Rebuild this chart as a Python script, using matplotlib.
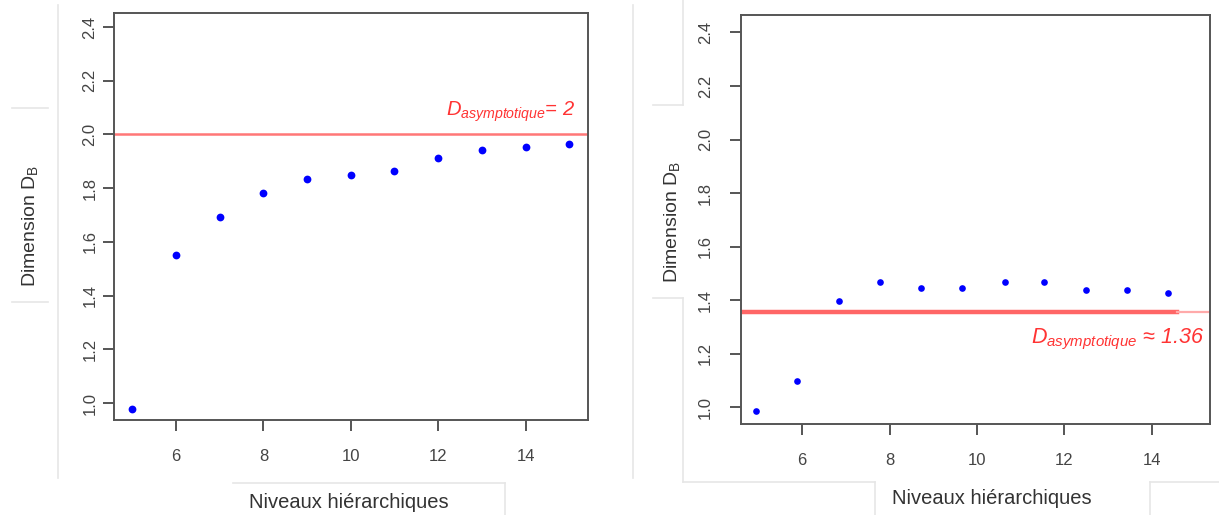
"""Box-counting dimension vs hierarchy level, two panels."""
import matplotlib
matplotlib.use("Agg")
import matplotlib.pyplot as plt
from matplotlib.lines import Line2D

plt.rcParams["font.family"] = ["Liberation Sans", "DejaVu Sans"]
plt.rcParams["mathtext.fontset"] = "custom"
plt.rcParams["mathtext.rm"] = "Liberation Sans"
plt.rcParams["mathtext.it"] = "Liberation Sans:italic"

# data
levels_left = [5, 6, 7, 8, 9, 10, 11, 12, 13, 14, 15]
dim_left = [0.978, 1.551, 1.693, 1.783, 1.834, 1.850, 1.863, 1.912, 1.942, 1.953, 1.965]
asym_left = 2.0

levels_right = [4.94, 5.89, 6.84, 7.77, 8.71, 9.65, 10.63, 11.54, 12.49, 13.43, 14.38]
dim_right = [0.985, 1.097, 1.397, 1.468, 1.447, 1.447, 1.467, 1.467, 1.439, 1.439, 1.426]
asym_right = 1.355

xticks = [6, 8, 10, 12, 14]
yticks = [1.0, 1.2, 1.4, 1.6, 1.8, 2.0, 2.2, 2.4]

W, H = 1219, 515
fig = plt.figure(figsize=(W / 100, H / 100), dpi=100)


def box(x0, y0, x1, y1):
    """Axes rect from pixel corners (top-left origin)."""
    return [x0 / W, 1 - y1 / H, (x1 - x0) / W, (y1 - y0) / H]


def faint(xs, ys):
    fig.add_artist(Line2D([x / W for x in xs], [1 - y / H for y in ys],
                          color="#e6e6e6", lw=1.2, transform=fig.transFigure))


def style_axes(ax, xlim, ylim, ypad):
    ax.set_xlim(*xlim)
    ax.set_ylim(*ylim)
    ax.set_xticks(xticks)
    ax.set_yticks(yticks)
    ax.set_yticklabels([f"{v:.1f}" for v in yticks])
    for s in ax.spines.values():
        s.set_color("#555555")
        s.set_linewidth(1.4)
    ax.tick_params(axis="both", colors="#555555", length=8, width=1.4,
                   labelsize=12, labelcolor="#444444")
    ax.tick_params(axis="x", pad=13)
    ax.tick_params(axis="y", labelrotation=90, pad=ypad)
    for lab in ax.get_yticklabels():
        lab.set_va("center")


# left panel
ax1 = fig.add_axes(box(114, 13, 588, 420))
ax1.plot(levels_left, dim_left, "o", color="#0000ff", ms=5.6, mec="none")
ax1.axhline(asym_left, color="#ff7777", lw=1.8)
ax1.text(0.972, 2.068, r"$D_{asymptotique}$= 2", color="#ff3333",
         style="italic", fontsize=14.5, ha="right", va="baseline",
         transform=ax1.get_yaxis_transform())
style_axes(ax1, (4.58, 15.43), (0.937, 2.452), 4)

# right panel
ax2 = fig.add_axes(box(741, 15, 1210, 424))
ax2.plot(levels_right, dim_right, "o", color="#0000ff", ms=4.8, mec="none")
ax2.axhline(asym_right, xmax=0.93, color="#ff6666", lw=3.2)
ax2.axhline(asym_right, xmin=0.93, color="#ffaaaa", lw=1.6)
ax2.text(0.987, 1.238, r"$D_{asymptotique}$ ≈ 1.36", color="#ff3333",
         style="italic", fontsize=15.5, ha="right", va="baseline",
         transform=ax2.get_yaxis_transform())
style_axes(ax2, (4.60, 15.33), (0.938, 2.465), 12)

# axis titles, placed where the screenshot has them
fig.text(349 / W, 1 - 502 / H, "Niveaux hiérarchiques", fontsize=14.5,
         color="#333333", ha="center", va="center")
fig.text(992 / W, 1 - 498 / H, "Niveaux hiérarchiques", fontsize=14.5,
         color="#333333", ha="center", va="center")
fig.text(30 / W, 1 - 226 / H, r"Dimension D$_\mathrm{B}$", fontsize=14,
         color="#333333", rotation=90, ha="center", va="center")
fig.text(672 / W, 1 - 222 / H, r"Dimension D$_\mathrm{B}$", fontsize=14,
         color="#333333", rotation=90, ha="center", va="center")

# faint screenshot seams
faint([58, 58], [5, 478])
faint([12, 48], [108, 108])
faint([12, 48], [302, 302])
faint([233, 505], [483, 483])
faint([505, 505], [483, 515])
faint([633, 633], [5, 478])
faint([683, 683], [0, 105])
faint([653, 683], [105, 105])
faint([653, 683], [298, 298])
faint([683, 683], [298, 482])
faint([683, 875], [482, 482])
faint([875, 875], [482, 515])
faint([1150, 1219], [482, 482])
faint([1150, 1150], [482, 515])

fig.savefig("out.png", dpi=100)
